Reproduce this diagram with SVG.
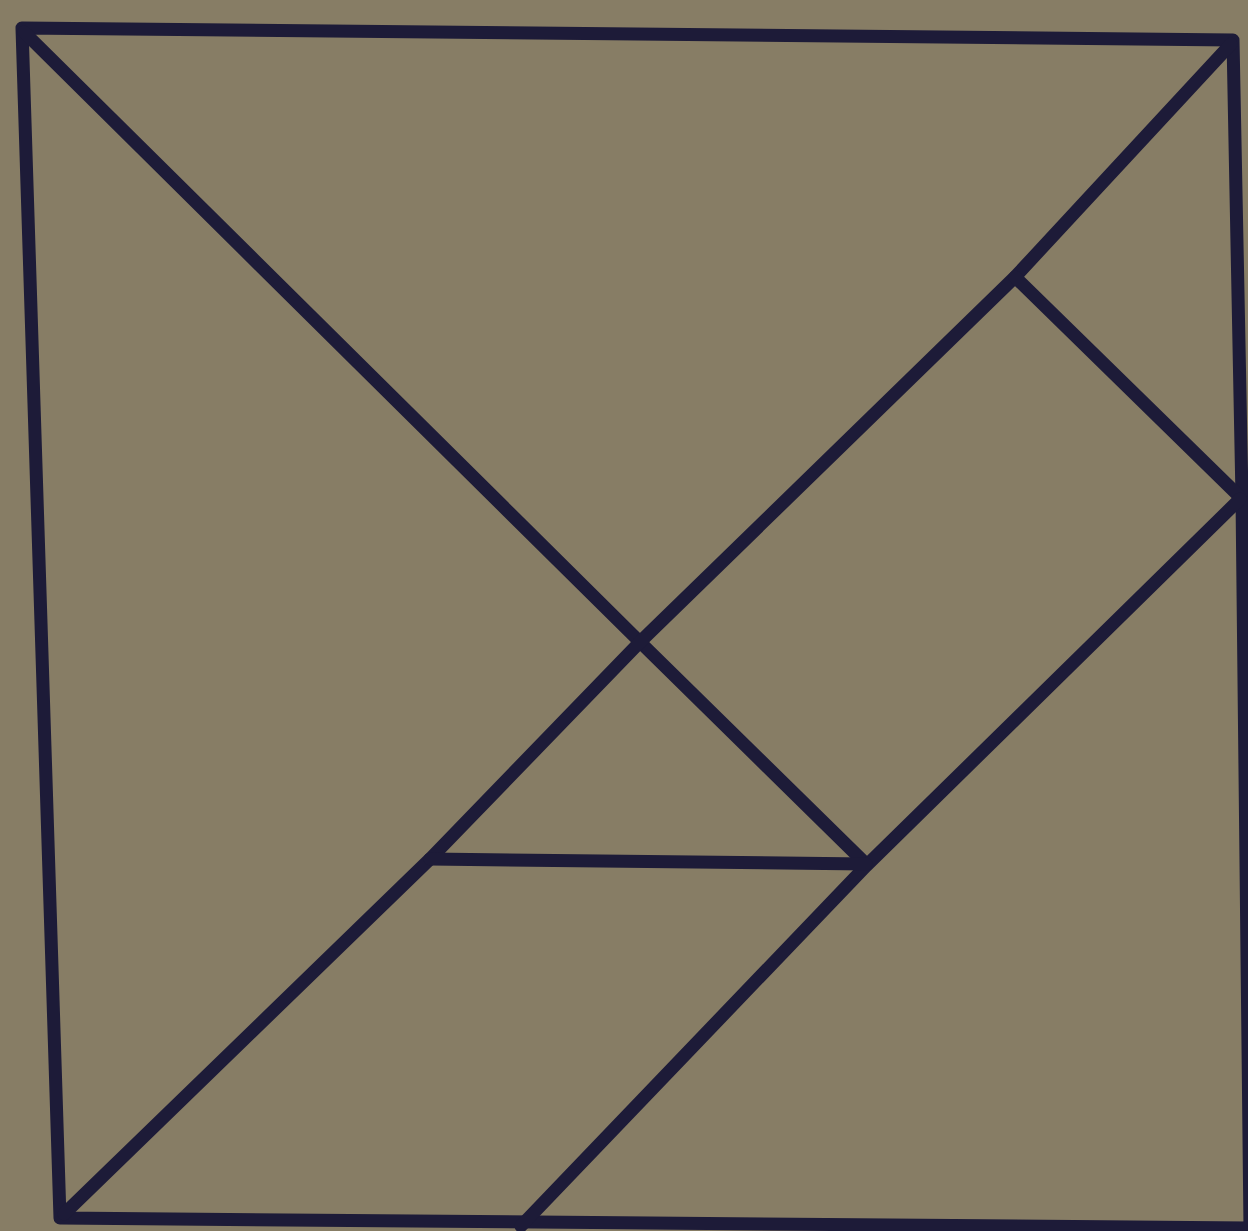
<svg xmlns="http://www.w3.org/2000/svg" width="1248" height="1231" viewBox="0 0 1248 1231">
<style>
.ln{fill:none;stroke:#1d1b38;stroke-width:13;stroke-linecap:round;stroke-linejoin:round}
</style>
<rect width="1248" height="1231" fill="#877d65"/>
<g id="outline">
<polyline class="ln" points="60,1218 22,28 1233,40 1242,497 1250,1228 60,1218"/>
</g>
<g id="connectors">
<polyline class="ln" points="24,32 640,642 866,864"/>
<polyline class="ln" points="64,1214 430,859 640,642 1015,277 1231,44"/>
<polyline class="ln" points="1015,277 1240,497"/>
<polyline class="ln" points="1240,499 866,866 521,1226"/>
<polyline class="ln" points="430,859 866,864"/>
</g>
</svg>
